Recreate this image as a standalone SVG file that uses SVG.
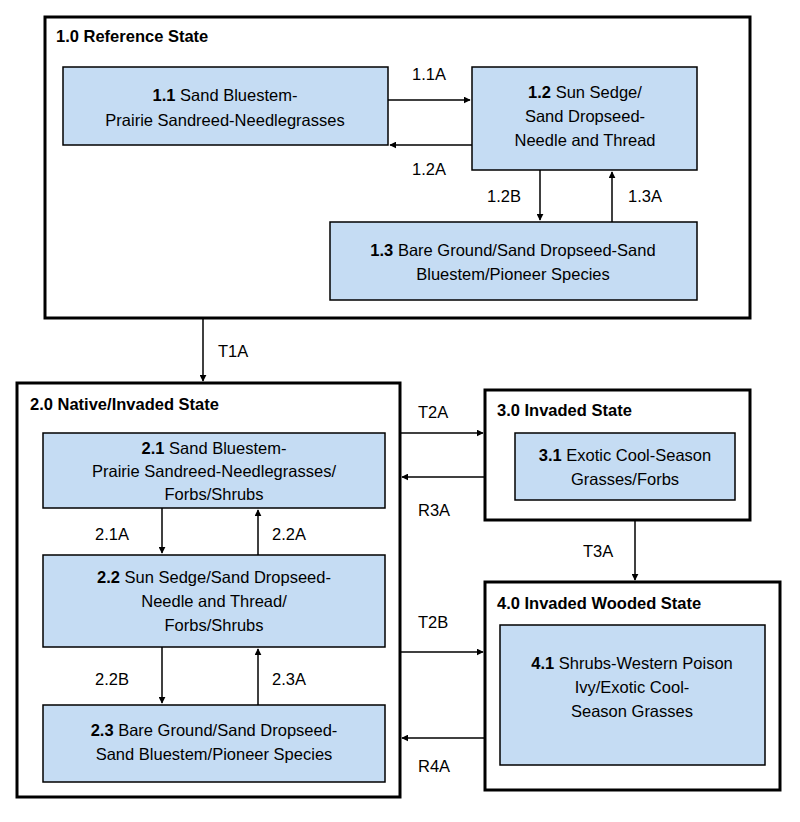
<svg xmlns="http://www.w3.org/2000/svg" width="800" height="822" viewBox="0 0 800 822">
<style>
text{font-family:"Liberation Sans",Arial,sans-serif;font-size:16.5px;fill:#000}
.st{fill:#fff;stroke:#000;stroke-width:3}
.cp{fill:#c5dcf3;stroke:#000;stroke-width:1.5}
.t{font-weight:bold}
.lb{font-size:15px}
.c line{stroke:#000;stroke-width:1.5;marker-end:url(#a)}
</style>
<defs><marker id="a" viewBox="0 0 10 10" refX="9" refY="5" markerWidth="7" markerHeight="7" orient="auto" markerUnits="userSpaceOnUse"><path d="M0,0L10,5L0,10z" fill="#000"/></marker></defs>
<rect width="800" height="822" fill="#fff"/>
<g id="s1"><rect class="st" x="45" y="17" width="705" height="301"/><text class="t" x="56" y="42">1.0 Reference State</text></g>
<g id="p11"><rect class="cp" x="63" y="67" width="325" height="78"/><text text-anchor="middle" x="225" y="101"><tspan class="t">1.1</tspan> Sand Bluestem-</text><text text-anchor="middle" x="225" y="126">Prairie Sandreed-Needlegrasses</text></g>
<g id="p12"><rect class="cp" x="472" y="67" width="225" height="103"/><text text-anchor="middle" x="585" y="98"><tspan class="t">1.2</tspan> Sun Sedge/</text><text text-anchor="middle" x="585" y="122">Sand Dropseed-</text><text text-anchor="middle" x="585" y="146">Needle and Thread</text></g>
<g id="p13"><rect class="cp" x="330" y="222" width="367" height="78"/><text text-anchor="middle" x="513" y="256"><tspan class="t">1.3</tspan> Bare Ground/Sand Dropseed-Sand</text><text text-anchor="middle" x="513" y="280">Bluestem/Pioneer Species</text></g>
<g id="s2"><rect class="st" x="17" y="383" width="383" height="414"/><text class="t" x="30" y="410">2.0 Native/Invaded State</text></g>
<g id="p21"><rect class="cp" x="43" y="433" width="342" height="75"/><text text-anchor="middle" x="214" y="454"><tspan class="t">2.1</tspan> Sand Bluestem-</text><text text-anchor="middle" x="214" y="477">Prairie Sandreed-Needlegrasses/</text><text text-anchor="middle" x="214" y="500">Forbs/Shrubs</text></g>
<g id="p22"><rect class="cp" x="43" y="555" width="342" height="92"/><text text-anchor="middle" x="214" y="583"><tspan class="t">2.2</tspan> Sun Sedge/Sand Dropseed-</text><text text-anchor="middle" x="214" y="607">Needle and Thread/</text><text text-anchor="middle" x="214" y="631">Forbs/Shrubs</text></g>
<g id="p23"><rect class="cp" x="43" y="705" width="342" height="77"/><text text-anchor="middle" x="214" y="736"><tspan class="t">2.3</tspan> Bare Ground/Sand Dropseed-</text><text text-anchor="middle" x="214" y="760">Sand Bluestem/Pioneer Species</text></g>
<g id="s3"><rect class="st" x="485" y="390" width="265" height="130"/><text class="t" x="497" y="416">3.0 Invaded State</text></g>
<g id="p31"><rect class="cp" x="515" y="433" width="220" height="67"/><text text-anchor="middle" x="625" y="461"><tspan class="t">3.1</tspan> Exotic Cool-Season</text><text text-anchor="middle" x="625" y="485">Grasses/Forbs</text></g>
<g id="s4"><rect class="st" x="485" y="582" width="295" height="208"/><text class="t" x="497" y="609">4.0 Invaded Wooded State</text></g>
<g id="p41"><rect class="cp" x="500" y="625" width="265" height="140"/><text text-anchor="middle" x="632" y="669"><tspan class="t">4.1</tspan> Shrubs-Western Poison</text><text text-anchor="middle" x="632" y="693">Ivy/Exotic  Cool-</text><text text-anchor="middle" x="632" y="717">Season Grasses</text></g>
<g id="connectors" class="c">
<line x1="388" y1="100" x2="470" y2="100"/><line x1="472" y1="145" x2="390" y2="145"/>
<line x1="540" y1="170" x2="540" y2="220"/><line x1="612" y1="222" x2="612" y2="172"/>
<line x1="203" y1="318" x2="203" y2="381"/>
<line x1="162" y1="508" x2="162" y2="553"/><line x1="258" y1="555" x2="258" y2="510"/>
<line x1="162" y1="647" x2="162" y2="703"/><line x1="258" y1="705" x2="258" y2="649"/>
<line x1="400" y1="433" x2="483" y2="433"/><line x1="485" y1="477" x2="402" y2="477"/>
<line x1="635" y1="520" x2="635" y2="580"/>
<line x1="400" y1="652" x2="483" y2="652"/><line x1="485" y1="738" x2="402" y2="738"/>
</g>
<g id="labels" class="lb">
<text x="412" y="80">1.1A</text><text x="412" y="175">1.2A</text><text x="487" y="202">1.2B</text><text x="628" y="202">1.3A</text>
<text x="218" y="357">T1A</text>
<text x="95" y="540">2.1A</text><text x="272" y="540">2.2A</text><text x="95" y="685">2.2B</text><text x="272" y="685">2.3A</text>
<text x="418" y="418">T2A</text><text x="418" y="516">R3A</text><text x="583" y="557">T3A</text>
<text x="418" y="628">T2B</text><text x="418" y="772">R4A</text>
</g>
</svg>
